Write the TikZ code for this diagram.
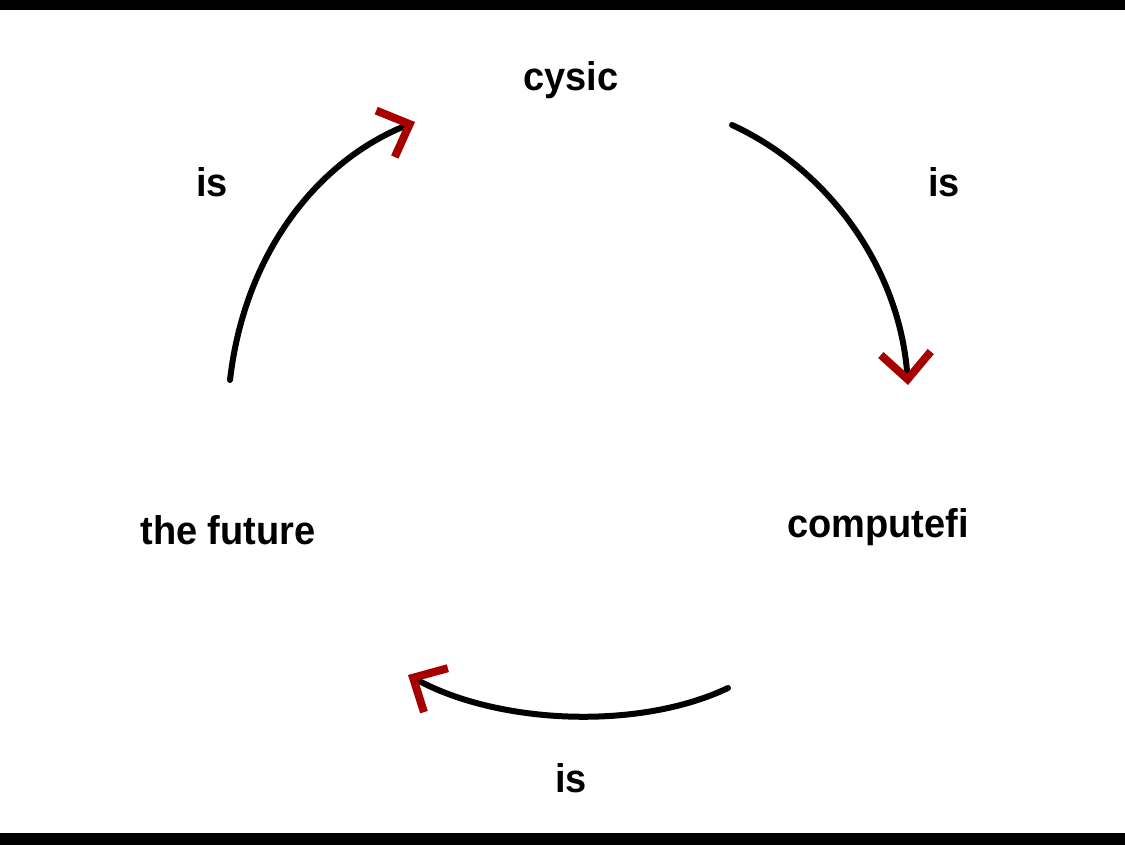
\documentclass[tikz,border=0pt]{standalone}
\usepackage{fontspec}
\setmainfont{Liberation Sans}
\usetikzlibrary{arrows.meta}
\begin{document}
\begin{tikzpicture}[x=1pt,y=-1pt,
  lbl/.style={font=\bfseries\fontsize{40}{46}\selectfont,inner sep=0pt,xscale=0.95},
  cyc/.style={line width=6pt,line cap=round,-{Straight Barb[color=red!65!black,length=26pt,width=50pt,line width=8pt]}}]
\useasboundingbox (0,0) rectangle (1125,845);
\fill[white] (0,0) rectangle (1125,845);
\fill[black] (0,0) rectangle (1125,10);
\fill[black] (0,833) rectangle (1125,845);
\node[lbl] (cysic) at (571,80) {cysic};
\node[lbl] (is1) at (212,182) {is};
\node[lbl] (is2) at (944,182) {is};
\node[lbl] (is3) at (571,778) {is};
\node[lbl] (fut) at (228,530) {the future};
\node[lbl] (cfi) at (878,527) {computefi};
\coordinate (a1) at (230,380); \coordinate (b1) at (415,122);
\coordinate (a2) at (732,125); \coordinate (b2) at (908,385);
\coordinate (a3) at (728,688); \coordinate (b3) at (408,675);
\draw[cyc] (a1) .. controls (245,250) and (320,160) .. (b1);
\draw[cyc] (a2) .. controls (830,170) and (900,270) .. (b2);
\draw[cyc] (a3) .. controls (640,730) and (500,725) .. (b3);
\end{tikzpicture}
\end{document}
